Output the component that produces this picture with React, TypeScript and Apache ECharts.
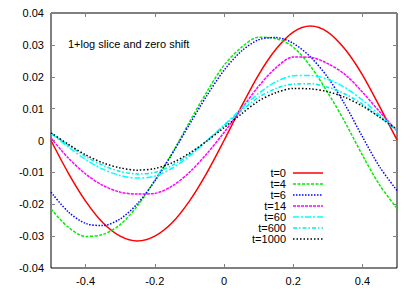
import React, { useEffect, useRef } from "react";
import * as echarts from "echarts";

const xs = [-0.5, -0.45, -0.4, -0.35, -0.3, -0.25, -0.2, -0.15, -0.1, -0.05, 0, 0.05, 0.1, 0.15, 0.2, 0.25, 0.3, 0.35, 0.4, 0.45, 0.5];

const seriesNames = ["t=0", "t=4", "t=6", "t=14", "t=60", "t=600", "t=1000"];

const t0 = [0.0000, -0.0102, -0.0190, -0.0258, -0.0300, -0.0315, -0.0300, -0.0258, -0.0190, -0.0102, 0.0000, 0.0106, 0.0206, 0.0286, 0.0340, 0.0359, 0.0340, 0.0286, 0.0206, 0.0106, 0.0002];
const t4 = [-0.0215, -0.0272, -0.0301, -0.0295, -0.0264, -0.0205, -0.0125, -0.0040, 0.0058, 0.0152, 0.0236, 0.0292, 0.0324, 0.0320, 0.0293, 0.0233, 0.0150, 0.0057, -0.0046, -0.0140, -0.0213];
const t6 = [-0.0162, -0.0224, -0.0260, -0.0267, -0.0246, -0.0198, -0.0127, -0.0042, 0.0050, 0.0140, 0.0220, 0.0280, 0.0316, 0.0323, 0.0305, 0.0262, 0.0198, 0.0112, 0.0012, -0.0083, -0.0157];
const t14 = [0.0008, -0.0055, -0.0105, -0.0141, -0.0162, -0.0168, -0.0166, -0.0143, -0.0100, -0.0042, 0.0025, 0.0098, 0.0170, 0.0228, 0.0262, 0.0261, 0.0241, 0.0207, 0.0152, 0.0090, 0.0030];
const t60 = [0.0022, -0.0020, -0.0060, -0.0090, -0.0110, -0.0118, -0.0112, -0.0087, -0.0049, -0.0001, 0.0048, 0.0100, 0.0148, 0.0184, 0.0203, 0.0204, 0.0192, 0.0166, 0.0127, 0.0080, 0.0032];
const t600 = [0.0024, -0.0015, -0.0050, -0.0078, -0.0097, -0.0105, -0.0100, -0.0078, -0.0044, -0.0001, 0.0046, 0.0093, 0.0135, 0.0163, 0.0177, 0.0178, 0.0167, 0.0146, 0.0114, 0.0074, 0.0030];
const t1000 = [0.0024, -0.0012, -0.0045, -0.0070, -0.0086, -0.0093, -0.0088, -0.0070, -0.0040, -0.0002, 0.0040, 0.0083, 0.0124, 0.0150, 0.0163, 0.0162, 0.0153, 0.0135, 0.0108, 0.0073, 0.0035];

const seriesValues = [t0, t4, t6, t14, t60, t600, t1000];
const xTicks = [-0.4, -0.2, 0, 0.2, 0.4];
const titleText = "1+log slice and zero shift";

const lineStyles: { color: string; dash: any }[] = [
  { color: "#ff0000", dash: "solid" },
  { color: "#00ee00", dash: [3, 1.5] },
  { color: "#0000ff", dash: [1.5, 1.5] },
  { color: "#ff00ff", dash: [3, 1] },
  { color: "#00ffff", dash: [6, 2, 2, 2] },
  { color: "#00eeee", dash: [4, 2, 1.5, 2] },
  { color: "#000000", dash: [1.5, 2] },
];

const FONT = "'Liberation Sans', Arial, Helvetica, sans-serif";

export default function App() {
  const ref = useRef<HTMLDivElement>(null);
  useEffect(() => {
    if (!ref.current) return;
    const chart = echarts.init(ref.current, undefined, { renderer: "svg" });
    const left = 51, top = 13, width = 346, height = 255;
    const tickStyle = { color: "#808080", width: 1 };
    const fmtY = (v: number) => (Math.abs(v) < 1e-9 ? "0" : String(Number(v.toFixed(2))));
    const fmtX = (v: number) => (Math.abs(v) < 1e-9 ? "0" : String(Number(v.toFixed(1))));

    const legendX = 286, legendY0 = 173, legendDy = 11;
    const graphics: any[] = [
      {
        type: "text",
        left: 68,
        top: 38,
        style: { text: titleText, fill: "#000", font: `11px ${FONT}` },
      },
    ];
    seriesNames.forEach((name, i) => {
      const y = legendY0 + i * legendDy;
      graphics.push({
        type: "text",
        x: legendX,
        y,
        style: { text: name, fill: "#000", font: `11px ${FONT}`, align: "right", verticalAlign: "middle" },
      });
      graphics.push({
        type: "line",
        shape: { x1: 293, y1: y, x2: 323, y2: y },
        style: {
          stroke: lineStyles[i].color,
          lineWidth: 1.5,
          lineDash: lineStyles[i].dash === "solid" ? null : lineStyles[i].dash,
        },
      });
    });

    const axisLine = { show: false, onZero: false };

    chart.setOption({
      animation: false,
      backgroundColor: "#ffffff",
      grid: { left, top, width, height, show: true, borderColor: "#000", borderWidth: 1, backgroundColor: "transparent" },
      xAxis: [
        {
          type: "value",
          min: -0.5,
          max: 0.5,
          position: "bottom",
          axisLine,
          splitLine: { show: false },
          axisTick: { show: true, inside: true, length: 4, lineStyle: tickStyle, customValues: xTicks },
          axisLabel: { show: true, customValues: xTicks, formatter: fmtX, color: "#000", fontSize: 11, fontFamily: FONT, margin: 7 },
        },
        {
          type: "value",
          min: -0.5,
          max: 0.5,
          position: "top",
          axisLine,
          splitLine: { show: false },
          axisTick: { show: true, inside: true, length: 4, lineStyle: tickStyle, customValues: xTicks },
          axisLabel: { show: false },
        },
      ],
      yAxis: [
        {
          type: "value",
          min: -0.04,
          max: 0.04,
          interval: 0.01,
          position: "left",
          axisLine,
          splitLine: { show: false },
          axisTick: { show: true, inside: true, length: 4, lineStyle: tickStyle },
          axisLabel: { show: true, formatter: fmtY, color: "#000", fontSize: 11, fontFamily: FONT, margin: 7 },
        },
        {
          type: "value",
          min: -0.04,
          max: 0.04,
          interval: 0.01,
          position: "right",
          axisLine,
          splitLine: { show: false },
          axisTick: { show: true, inside: true, length: 4, lineStyle: tickStyle },
          axisLabel: { show: false },
        },
      ],
      series: seriesNames.map((name, i) => ({
        name,
        type: "line",
        xAxisIndex: 0,
        yAxisIndex: 0,
        data: xs.map((x, j) => [x, seriesValues[i][j]]),
        smooth: 0.3,
        showSymbol: false,
        symbol: "none",
        lineStyle: { color: lineStyles[i].color, width: 1.5, type: lineStyles[i].dash },
        itemStyle: { color: lineStyles[i].color },
        z: 2 + i,
      })),
      graphic: graphics,
    });
    return () => chart.dispose();
  }, []);
  return (
    <div
      ref={ref}
      style={{ position: "absolute", left: 0, top: 0, width: 415, height: 291, background: "#fff" }}
    />
  );
}
